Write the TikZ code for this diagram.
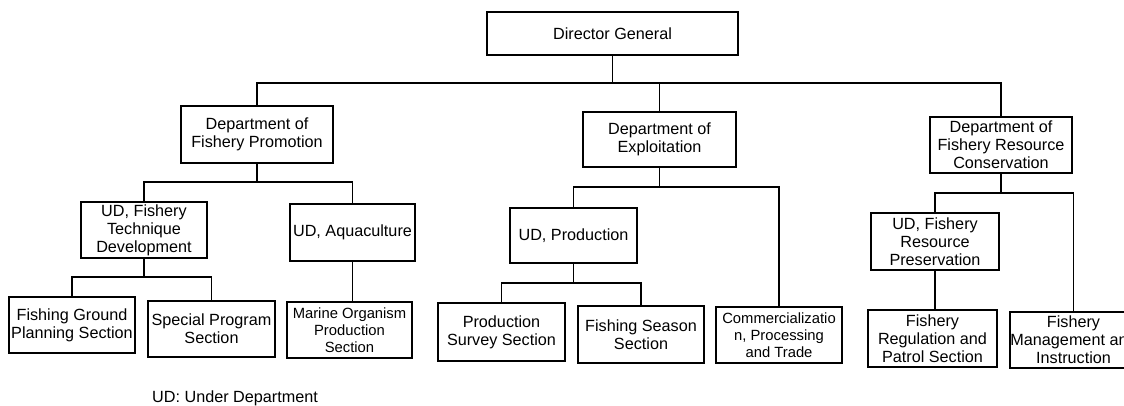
\documentclass[tikz,border=0pt]{standalone}
\usepackage{fontspec}
\setmainfont{Liberation Sans}
\begin{document}
\begin{tikzpicture}[x=1pt,y=-1pt,
  box/.style={draw,line width=1.4pt,inner sep=0pt,align=center,
    font=\fontsize{16.2}{18}\selectfont},
  smallbox/.style={box,font=\fontsize{14.8}{17}\selectfont},
  link/.style={line width=1.4pt}]
\useasboundingbox (0,0) rectangle (1124,405);
% level 0
\node[box,minimum width=251pt,minimum height=43pt] (dg) at (612.5,33.5) {Director General};
% level 1
\node[box,minimum width=152pt,minimum height=57pt] (dfp) at (257,134.5) {Department of\\Fishery Promotion};
\node[box,minimum width=153pt,minimum height=55pt] (de) at (659.5,139.5) {Department of\\Exploitation};
\node[box,minimum width=142pt,minimum height=56pt] (dfrc) at (1001,145) {Department of\\Fishery Resource\\Conservation};
% level 2
\node[box,minimum width=126pt,minimum height=56pt] (udft) at (144,230) {UD, Fishery\\Technique\\Development};
\node[box,minimum width=125pt,minimum height=57pt] (uda) at (352.5,232.5) {UD, Aquaculture};
\node[box,minimum width=127pt,minimum height=55pt] (udp) at (573.5,235.5) {UD, Production};
\node[box,minimum width=128pt,minimum height=57pt] (udfrp) at (935,241.5) {UD, Fishery\\Resource\\Preservation};
% level 3
\node[box,minimum width=126pt,minimum height=56pt] (fgp) at (72,325) {Fishing Ground\\Planning Section};
\node[box,minimum width=127pt,minimum height=56pt] (sps) at (211.5,329) {Special Program\\Section};
\node[smallbox,minimum width=125pt,minimum height=56pt] (mop) at (349.5,330) {Marine Organism\\Production\\Section};
\node[box,minimum width=127pt,minimum height=58pt] (pss) at (501.5,332) {Production\\Survey Section};
\node[box,minimum width=126pt,minimum height=57pt] (fss) at (641,334.5) {Fishing Season\\Section};
\node[smallbox,minimum width=126pt,minimum height=56pt] (cpt) at (779,335) {Commercializatio\\n, Processing\\and Trade};
\node[box,minimum width=129pt,minimum height=57pt] (frps) at (932.5,338.5) {Fishery\\Regulation and\\Patrol Section};
\node[box,minimum width=127pt,minimum height=56pt] (fmi) at (1073.5,340) {Fishery\\Management and\\Instruction};
% footnote
\node[anchor=base west,inner sep=0pt,font=\fontsize{16.2}{18}\selectfont] (note) at (152,402) {UD: Under Department};
% connectors
\coordinate (j0) at (dg.south |- 0,83);
\draw[link] (dg.south) -- (j0);
\draw[link] (dfp.north) |- (j0) -| (dfrc.north);
\draw[link] (de.north) -- (de.north |- j0);
\coordinate (j1) at (dfp.south |- 0,182);
\draw[link] (dfp.south) -- (j1);
\draw[link] (udft.north) |- (j1) -| (uda.north);
\coordinate (j2) at (udft.south |- 0,277);
\draw[link] (udft.south) -- (j2);
\draw[link] (fgp.north) |- (j2) -| (sps.north);
\draw[link] (uda.south) -- (uda.south |- mop.north);
\coordinate (j3) at (de.south |- 0,187);
\draw[link] (de.south) -- (j3);
\draw[link] (udp.north) |- (j3) -| (cpt.north);
\coordinate (j4) at (udp.south |- 0,283);
\draw[link] (udp.south) -- (j4);
\draw[link] (pss.north) |- (j4) -| (fss.north);
\coordinate (j5) at (dfrc.south |- 0,193);
\draw[link] (dfrc.south) -- (j5);
\draw[link] (udfrp.north) |- (j5) -| (fmi.north);
\draw[link] (udfrp.south) -- (udfrp.south |- frps.north);
\end{tikzpicture}
\end{document}
